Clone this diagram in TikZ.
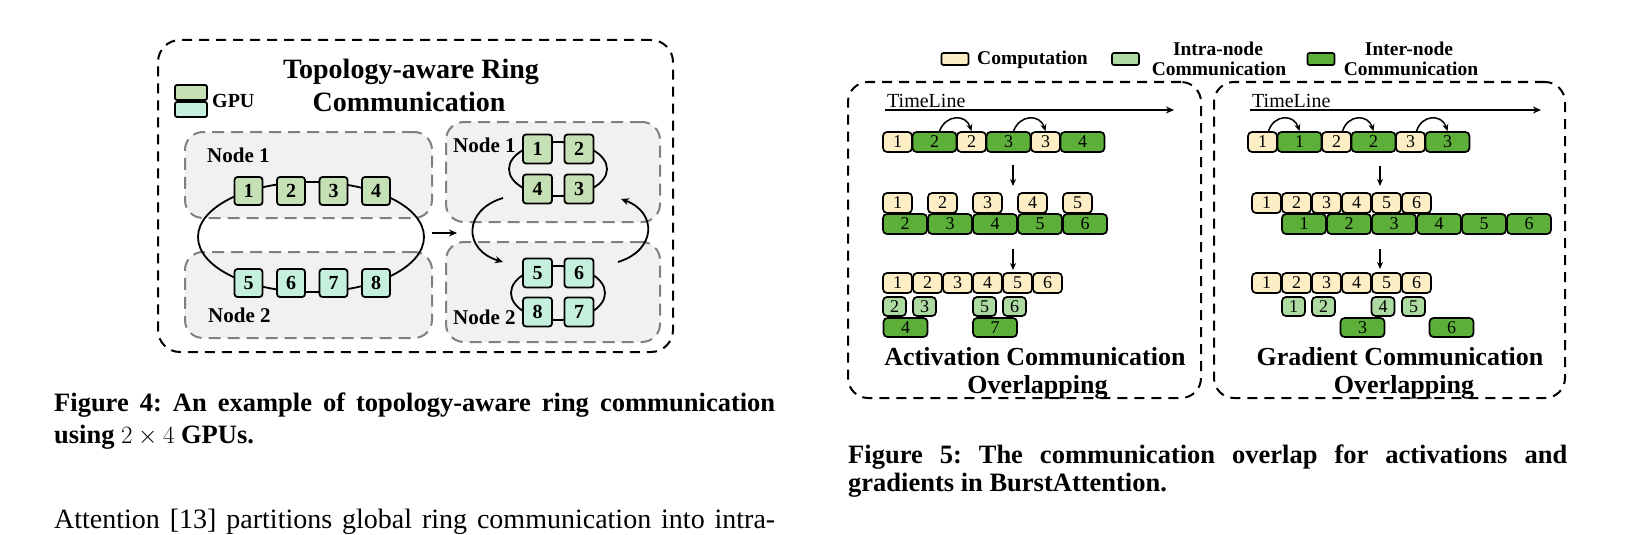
\documentclass[tikz,border=0pt]{standalone}
\usepackage{fontspec}
\setmainfont{Liberation Serif}
\usetikzlibrary{arrows.meta}
\frenchspacing
\definecolor{gpuA}{RGB}{197,224,180}
\definecolor{gpuB}{RGB}{198,240,222}
\definecolor{nodefill}{RGB}{241,241,241}
\definecolor{nodedraw}{RGB}{128,128,128}
\definecolor{compc}{RGB}{253,238,198}
\definecolor{interc}{RGB}{92,176,58}
\definecolor{intrac}{RGB}{172,218,160}
\begin{document}
\begin{tikzpicture}[x=1pt,y=-1pt,
  outerbox/.style={draw=black,line width=2pt,dash pattern=on 10pt off 7pt,rounded corners=22pt,inner sep=0pt},
  nodebox/.style={draw=nodedraw,fill=nodefill,line width=2pt,dash pattern=on 12pt off 7pt,rounded corners=18pt,inner sep=0pt},
  gpu/.style={draw=black,line width=1.8pt,rounded corners=3pt,inner sep=0pt,font=\fontsize{20}{20}\selectfont\bfseries},
  gpua/.style={gpu,fill=gpuA,minimum size=28pt},
  gpub/.style={gpu,fill=gpuB,minimum size=28pt},
  gpuar/.style={gpu,fill=gpuA,minimum size=29pt},
  gpubr/.style={gpu,fill=gpuB,minimum size=29pt},
  ringline/.style={draw=black,line width=1.8pt},
  arr/.style={draw=black,line width=1.8pt,-{Stealth[length=8pt,width=7pt]}},
  lbl/.style={inner sep=0pt,font=\fontsize{21}{21}\selectfont\bfseries},
  blk/.style={draw=black,line width=1.7pt,rounded corners=4pt,inner sep=0pt,minimum height=20pt,font=\fontsize{18}{18}\selectfont},
  comp/.style={blk,fill=compc,minimum width=29pt},
  inter/.style={blk,fill=interc,minimum width=44pt},
  intra/.style={blk,fill=intrac,minimum width=23pt,minimum height=19pt},
  interthree/.style={inter,minimum height=19pt},
  legbox/.style={draw=black,line width=1.7pt,rounded corners=2pt,inner sep=0pt,minimum width=27pt,minimum height=12pt},
  legtxt/.style={inner sep=0pt,font=\fontsize{19.5}{21}\selectfont\bfseries,align=center},
  ttlfour/.style={inner sep=0pt,font=\fontsize{28}{28}\selectfont\bfseries},
  ttlfive/.style={inner sep=0pt,font=\fontsize{26}{26}\selectfont\bfseries},
  tltxt/.style={inner sep=0pt,font=\fontsize{20}{20}\selectfont},
  captxt/.style={inner sep=0pt,anchor=base west,font=\fontsize{26.5}{30}\selectfont\bfseries},
  bodytxt/.style={inner sep=0pt,anchor=base west,font=\fontsize{28}{30}\selectfont},
  smallarr/.style={draw=black,line width=1.5pt,-{Stealth[length=7pt,width=6pt]}}
]
\useasboundingbox (0,0) rectangle (1625,535);
\fill[white] (0,0) rectangle (1625,535);

%================ Figure 4 ================
\node[outerbox,minimum width=515pt,minimum height=312pt] (f4) at (415.5,196) {};
\node[nodebox,minimum width=247pt,minimum height=86pt] (LN1) at (308.5,175) {};
\node[nodebox,minimum width=247pt,minimum height=86pt] (LN2) at (308.5,295) {};
\node[nodebox,minimum width=214pt,minimum height=100pt] (RN1) at (553,172) {};
\node[nodebox,minimum width=214pt,minimum height=100pt] (RN2) at (553,292) {};

\node[ttlfour,anchor=base] (t4a) at (411,78) {Topology-aware Ring};
\node[ttlfour,anchor=base] (t4b) at (409,111) {Communication};

\node[gpu,fill=gpuA,minimum width=32pt,minimum height=15pt,rounded corners=2pt] (lgA) at (191,92.5) {};
\node[gpu,fill=gpuB,minimum width=32pt,minimum height=15pt,rounded corners=2pt] (lgB) at (191,109.5) {};
\node[lbl,anchor=west,font=\fontsize{20}{20}\selectfont\bfseries] (lgT) at (212,101) {GPU};

% left ring
\draw[ringline] (311,237) ellipse [x radius=113pt, y radius=55pt];
\node[gpua] (g1) at (248.5,191) {1};
\node[gpua] (g2) at (291,191) {2};
\node[gpua] (g3) at (333.5,191) {3};
\node[gpua] (g4) at (376,191) {4};
\node[gpub] (g5) at (248.5,283) {5};
\node[gpub] (g6) at (291,283) {6};
\node[gpub] (g7) at (333.5,283) {7};
\node[gpub] (g8) at (376,283) {8};
\node[lbl,anchor=west] (ln1) at (207,155) {Node 1};
\node[lbl,anchor=west] (ln2) at (208,315) {Node 2};

% middle arrow
\coordinate (ma) at (432,233);
\coordinate (mb) at (457,233);
\draw[arr] (ma) -- (mb);

% right rings
\draw[ringline] (558,169) ellipse [x radius=49pt, y radius=27pt];
\draw[ringline] (558,293) ellipse [x radius=47pt, y radius=27pt];
\node[gpuar] (h1) at (537.5,149) {1};
\node[gpuar] (h2) at (579,149) {2};
\node[gpuar] (h4) at (537.5,189) {4};
\node[gpuar] (h3) at (579,189) {3};
\node[gpubr] (h5) at (537.5,273) {5};
\node[gpubr] (h6) at (579,273) {6};
\node[gpubr] (h8) at (537.5,312) {8};
\node[gpubr] (h7) at (579,312) {7};
\node[lbl,anchor=west] (rn1) at (453,145) {Node 1};
\node[lbl,anchor=west] (rn2) at (453,317) {Node 2};

\coordinate (ca) at (503,198);
\coordinate (cb) at (503,262);
\coordinate (cc) at (618,262);
\coordinate (cd) at (621,199);
\draw[arr] (ca) .. controls (463,210) and (463,250) .. (cb);
\draw[arr] (cc) .. controls (657,250) and (657,212) .. (cd);

% caption 4 and body text
\node[captxt] (c4a) at (54,411) {\makebox[721pt][s]{Figure 4: An example of topology-aware ring communication}};
\node[captxt] (c4b) at (54,443) {using $2\times4$ GPUs.};
\node[bodytxt] (bt) at (54,528) {\makebox[721pt][s]{Attention [13] partitions global ring communication into intra-}};

%================ Figure 5 ================
% legend
\node[legbox,fill=compc] (lgc) at (955,59) {};
\node[legtxt,anchor=base west] (lgct) at (977,64) {Computation};
\node[legbox,fill=intrac] (lgi) at (1125.5,59) {};
\node[legtxt,anchor=base] (lgit1) at (1218,56) {Intra-node};
\node[legtxt,anchor=base] (lgit2) at (1219,76) {Communication};
\node[legbox,fill=interc] (lge) at (1321,59) {};
\node[legtxt,anchor=base] (lget1) at (1409,56) {Inter-node};
\node[legtxt,anchor=base] (lget2) at (1411,76) {Communication};

\node[outerbox,minimum width=353pt,minimum height=316pt,rounded corners=20pt] (pA) at (1024.5,240) {};
\node[outerbox,minimum width=351pt,minimum height=316pt,rounded corners=20pt] (pB) at (1389.5,240) {};

% timelines
\coordinate (tla) at (885,110);
\coordinate (tlb) at (1174,110);
\draw[arr,line width=1.6pt] (tla) -- (tlb);
\node[tltxt,anchor=base west] (tlA) at (887,107) {TimeLine};
\coordinate (tlc) at (1250,110);
\coordinate (tld) at (1541,110);
\draw[arr,line width=1.6pt] (tlc) -- (tld);
\node[tltxt,anchor=base west] (tlB) at (1252,107) {TimeLine};

% ---- left panel ----
\node[comp]  (a1)  at (897.5,142) {1};
\node[inter] (a2)  at (934.5,142) {2};
\node[comp]  (a3)  at (971.5,142) {2};
\node[inter] (a4)  at (1008.5,142) {3};
\node[comp]  (a5)  at (1045.5,142) {3};
\node[inter] (a6)  at (1082.5,142) {4};
\draw[smallarr] ([xshift=5pt]a2.north) .. controls (946,114) and (966,114) .. (a3.north);
\draw[smallarr] ([xshift=5pt]a4.north) .. controls (1020,114) and (1040,114) .. (a5.north);

\coordinate (da1) at (1013,165);
\coordinate (da2) at (1013,186);
\draw[smallarr] (da1) -- (da2);

\node[comp] (b1) at (897.5,203) {1};
\node[comp] (b2) at (942.5,203) {2};
\node[comp] (b3) at (987.5,203) {3};
\node[comp] (b4) at (1032.5,203) {4};
\node[comp] (b5) at (1077.5,203) {5};
\node[inter] (bb2) at (905,224) {2};
\node[inter] (bb3) at (950,224) {3};
\node[inter] (bb4) at (995,224) {4};
\node[inter] (bb5) at (1040,224) {5};
\node[inter] (bb6) at (1085,224) {6};

\coordinate (db1) at (1013,249);
\coordinate (db2) at (1013,270);
\draw[smallarr] (db1) -- (db2);

\node[comp] (e1) at (897.5,283) {1};
\node[comp] (e2) at (927.5,283) {2};
\node[comp] (e3) at (957.5,283) {3};
\node[comp] (e4) at (987.5,283) {4};
\node[comp] (e5) at (1017.5,283) {5};
\node[comp] (e6) at (1047.5,283) {6};
\node[intra] (f2) at (894.5,306.5) {2};
\node[intra] (f3) at (924.5,306.5) {3};
\node[intra] (f5) at (984.5,306.5) {5};
\node[intra] (f6) at (1014.5,306.5) {6};
\node[interthree] (k4) at (905.5,327.5) {4};
\node[interthree] (k7) at (995,327.5) {7};

\node[ttlfive,anchor=base] (pAt1) at (1035,365) {Activation Communication};
\node[ttlfive,anchor=base] (pAt2) at (1037.5,393) {Overlapping};

% ---- right panel ----
\node[comp]  (r1)  at (1262.5,142) {1};
\node[inter] (r2)  at (1299.5,142) {1};
\node[comp]  (r3)  at (1336.5,142) {2};
\node[inter] (r4)  at (1373.5,142) {2};
\node[comp]  (r5)  at (1410.5,142) {3};
\node[inter] (r6)  at (1447.5,142) {3};
\draw[smallarr] ([xshift=6pt]r1.north) .. controls (1274,114) and (1294,114) .. (r2.north);
\draw[smallarr] ([xshift=6pt]r3.north) .. controls (1348,114) and (1368,114) .. (r4.north);
\draw[smallarr] ([xshift=6pt]r5.north) .. controls (1422,114) and (1442,114) .. (r6.north);

\coordinate (dr1) at (1380,166);
\coordinate (dr2) at (1380,186);
\draw[smallarr] (dr1) -- (dr2);

\node[comp] (s1) at (1266.5,203) {1};
\node[comp] (s2) at (1296.5,203) {2};
\node[comp] (s3) at (1326.5,203) {3};
\node[comp] (s4) at (1356.5,203) {4};
\node[comp] (s5) at (1386.5,203) {5};
\node[comp] (s6) at (1416.5,203) {6};
\node[inter] (ss1) at (1304,224) {1};
\node[inter] (ss2) at (1349,224) {2};
\node[inter] (ss3) at (1394,224) {3};
\node[inter] (ss4) at (1439,224) {4};
\node[inter] (ss5) at (1484,224) {5};
\node[inter] (ss6) at (1529,224) {6};

\coordinate (ds1) at (1380,249);
\coordinate (ds2) at (1380,269);
\draw[smallarr] (ds1) -- (ds2);

\node[comp] (u1) at (1266.5,283) {1};
\node[comp] (u2) at (1296.5,283) {2};
\node[comp] (u3) at (1326.5,283) {3};
\node[comp] (u4) at (1356.5,283) {4};
\node[comp] (u5) at (1386.5,283) {5};
\node[comp] (u6) at (1416.5,283) {6};
\node[intra] (v1) at (1293.5,306.5) {1};
\node[intra] (v2) at (1323.5,306.5) {2};
\node[intra] (v4) at (1383,306.5) {4};
\node[intra] (v5) at (1413.5,306.5) {5};
\node[interthree] (w3) at (1362.5,327.5) {3};
\node[interthree] (w6) at (1451.5,327.5) {6};

\node[ttlfive,anchor=base] (pBt1) at (1400,365) {Gradient Communication};
\node[ttlfive,anchor=base] (pBt2) at (1404,393) {Overlapping};

% caption 5
\node[captxt] (c5a) at (848,463) {\makebox[719pt][s]{Figure 5: The communication overlap for activations and}};
\node[captxt] (c5b) at (848,491) {gradients in BurstAttention.};
\end{tikzpicture}
\end{document}
